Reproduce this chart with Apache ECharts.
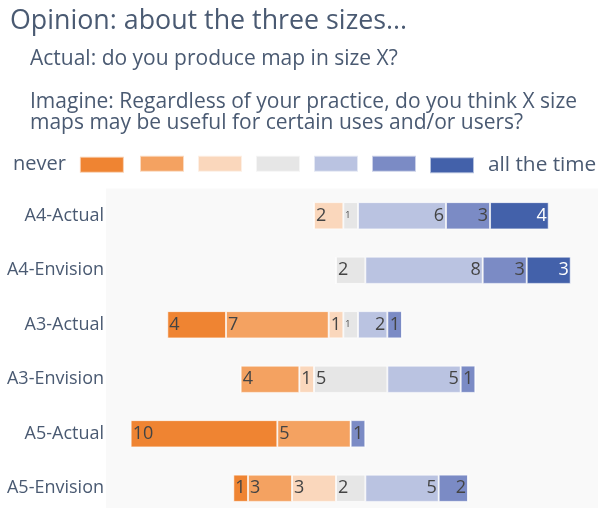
<!DOCTYPE html>
<html>
<head>
<meta charset="utf-8">
<script src="https://cdn.jsdelivr.net/npm/echarts@6/dist/echarts.min.js"></script>
<style>
html,body{margin:0;padding:0;background:#fff;}
#chart{width:598px;height:508px;}
</style>
</head>
<body>
<div id="chart"></div>
<script>
// ---- data ----
const categories = ['A4-Actual', 'A4-Envision', 'A3-Actual', 'A3-Envision', 'A5-Actual', 'A5-Envision'];
const levelNames = ['never', 'level 2', 'level 3', 'neutral', 'level 5', 'level 6', 'all the time'];
const never      = [0, 0, 4, 0, 10, 1];
const level2     = [0, 0, 7, 4, 5, 3];
const level3     = [2, 0, 1, 1, 0, 3];
const neutral    = [1, 2, 1, 5, 0, 2];
const level5     = [6, 8, 2, 5, 0, 5];
const level6     = [3, 3, 1, 1, 1, 2];
const allTheTime = [4, 3, 0, 0, 0, 0];
const levels = [never, level2, level3, neutral, level5, level6, allTheTime];

const titleText = 'Opinion: about the three sizes...';
const subtitle1 = 'Actual: do you produce map in size X?';
const subtitle2 = 'Imagine: Regardless of your practice, do you think X size\nmaps may be useful for certain uses and/or users?';

// ---- style ----
const colors = ['#ef8432', '#f4a261', '#fad7bc', '#e6e6e6', '#bac3e1', '#7b8bc5', '#4361aa'];
const textColor = '#4a5a72';
const font = '"Open Sans", "Noto Sans", sans-serif';
const axisLeftRange = 16.68;   // units shown left of centre
const axisRightRange = 16.86;  // units shown right of centre

// invisible offset so the neutral category is centred
const offsets = categories.map((c, i) =>
  axisLeftRange - (never[i] + level2[i] + level3[i] + neutral[i] / 2));

const series = [{
  name: 'offset',
  type: 'bar',
  stack: 'likert',
  silent: true,
  itemStyle: { color: 'transparent' },
  barWidth: '50%',
  data: offsets,
  label: { show: false }
}];
levels.forEach((arr, li) => {
  series.push({
    name: levelNames[li],
    type: 'bar',
    stack: 'likert',
    barWidth: '50%',
    itemStyle: { color: colors[li], borderColor: 'rgba(255,255,255,0.6)', borderWidth: 1 },
    data: arr.map(v => ({
      value: v,
      label: (li === 3 && v === 1) ? { fontSize: 9 } : {}
    })),
    label: {
      show: true,
      position: li <= 3 ? 'insideLeft' : 'insideRight',
      distance: 2,
      fontFamily: font,
      fontSize: 18,
      color: li === 6 ? '#ffffff' : '#444444',
      formatter: p => p.value > 0 ? String(p.value) : ''
    },
    emphasis: { disabled: true }
  });
});

const legendCommon = { itemWidth: 44, itemHeight: 16, icon: 'rect', selectedMode: false, padding: 0, top: 154.7 };

const chart = echarts.init(document.getElementById('chart'), null, { renderer: 'canvas' });
chart.setOption({
  backgroundColor: '#ffffff',
  animation: false,
  title: [
    { text: titleText, left: 10, top: 6, padding: 0,
      textStyle: { fontFamily: font, fontSize: 26.8, fontWeight: 'normal', color: textColor, lineHeight: 30 } },
    { text: subtitle1, left: 30, top: 48, padding: 0,
      textStyle: { fontFamily: font, fontSize: 21, fontWeight: 'normal', color: textColor, lineHeight: 22 } },
    { text: subtitle2, left: 30, top: 92, padding: 0,
      textStyle: { fontFamily: font, fontSize: 21, fontWeight: 'normal', color: textColor, lineHeight: 21 } }
  ],
  legend: [
    Object.assign({ data: [levelNames[0]], left: 13, align: 'right',
      textStyle: { fontFamily: font, fontSize: 20, color: textColor, padding: [0, 9, 0, 0] } }, legendCommon),
    Object.assign({ data: levelNames.slice(1, 6), left: 139, align: 'left', itemGap: 12,
      formatter: () => '',
      textStyle: { fontFamily: font, fontSize: 20, color: textColor } }, legendCommon),
    Object.assign({ data: [levelNames[6]], left: 429, align: 'left',
      textStyle: { fontFamily: font, fontSize: 20.8, color: textColor, padding: [0, 0, 0, 9] } }, legendCommon)
  ],
  grid: { left: 106, top: 188.5, width: 492, height: 327, show: true, backgroundColor: '#f9f9f9',
    borderWidth: 0, outerBoundsMode: 'none' },
  xAxis: {
    type: 'value', min: 0, max: axisLeftRange + axisRightRange, show: false
  },
  yAxis: {
    type: 'category', data: categories, inverse: true,
    axisLine: { show: false }, axisTick: { show: false },
    axisLabel: { fontFamily: font, fontSize: 18, color: textColor, margin: 2 }
  },
  series: series
});
</script>
</body>
</html>
